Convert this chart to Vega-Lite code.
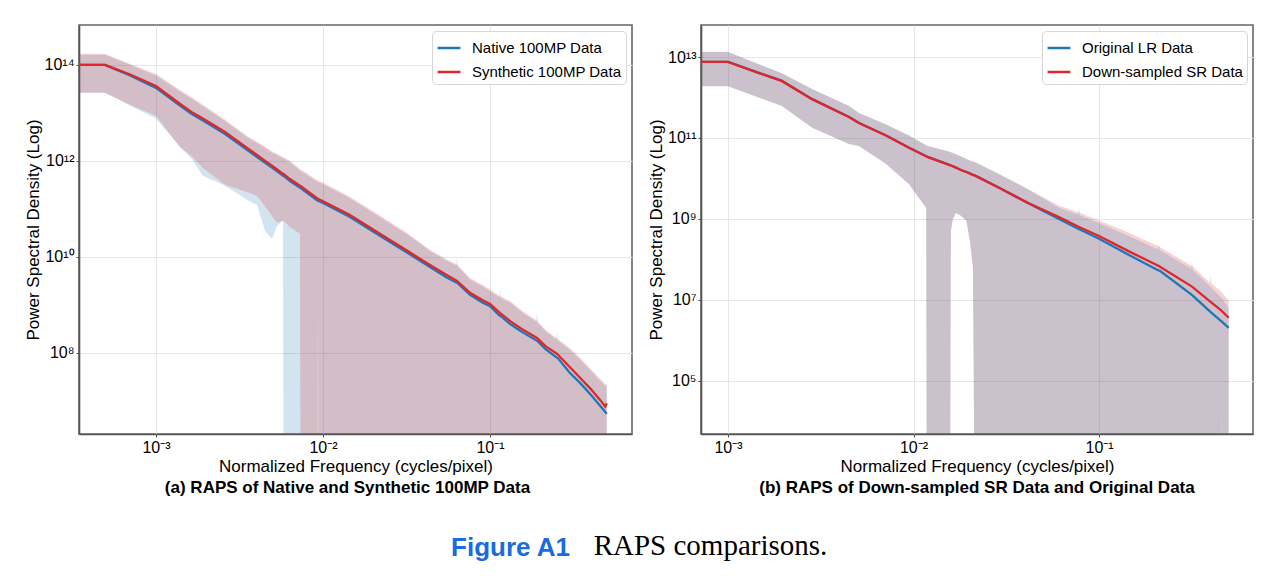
{
  "$schema": "https://vega.github.io/schema/vega-lite/v6.json",
  "background": "white",
  "padding": {"left": 23, "top": 24, "right": 0, "bottom": 0},
  "config": {
    "view": {"stroke": "#666666", "strokeWidth": 1.6},
    "axis": {
      "labelFont": "Liberation Sans", "titleFont": "Liberation Sans",
      "labelFontSize": 16, "titleFontSize": 17, "titleFontWeight": "normal",
      "labelColor": "#000000", "titleColor": "#000000",
      "gridColor": "#e6e6e6", "gridWidth": 1,
      "domainColor": "#555555", "domainWidth": 1.6,
      "tickColor": "#555555", "tickSize": 3, "labelPadding": 2
    },
    "axisX": {"titlePadding": 3},
    "axisY": {"titlePadding": 2},
    "legend": {
      "orient": "top-right", "offset": 6,
      "labelFont": "Liberation Sans", "labelFontSize": 15, "labelColor": "#000000", "labelLimit": 400,
      "symbolType": "stroke", "symbolStrokeWidth": 2.5, "symbolSize": 520,
      "labelOffset": 10, "padding": 4, "rowPadding": 3,
      "fillColor": "#ffffff", "strokeColor": "#d6d6d6", "cornerRadius": 4
    }
  },
  "title": {"text": "RAPS comparisons.", "orient": "bottom", "font": "Liberation Serif", "fontSize": 29, "fontWeight": "normal", "color": "#000000", "anchor": "middle", "baseline": "alphabetic", "dx": 72, "dy": -6, "offset": 0},
  "vconcat": [
    {
      "title": {"text": "Figure A1", "orient": "bottom", "font": "Liberation Sans", "fontSize": 26, "fontWeight": "bold", "color": "#1a6be0", "anchor": "middle", "baseline": "alphabetic", "dx": -128, "offset": 59},
      "spacing": 13,
      "resolve": {
        "scale": {"x": "independent", "y": "independent", "stroke": "independent"},
        "legend": {"stroke": "independent"},
        "axis": {"x": "independent", "y": "independent"}
      },
      "hconcat": [
        {
          "width": 553, "height": 409,
          "data": {"name": "left"},
          "title": {"text": "(a) RAPS of Native and Synthetic 100MP Data", "orient": "bottom", "font": "Liberation Sans", "fontSize": 17, "fontWeight": "bold", "color": "#000000", "anchor": "middle", "offset": 6, "dx": -8},
          "encoding": {
            "x": {"field": "f", "type": "quantitative", "scale": {"type": "log", "domain": [0.000346, 0.708], "nice": false},
                  "axis": {"values": [0.001, 0.01, 0.1], "labelExpr": "datum.value < 0.005 ? '10⁻³' : datum.value < 0.05 ? '10⁻²' : '10⁻¹'", "title": "Normalized Frequency (cycles/pixel)", "grid": true}}
          },
          "layer": [
            {
              "transform": [{"filter": "datum.s == 'Native 100MP Data'"}],
              "mark": {"type": "area", "clip": true, "color": "#1f77b4", "fillOpacity": 0.2},
              "encoding": {
                "y": {"field": "lo", "type": "quantitative", "scale": {"type": "log", "domain": [2.04e6, 6.76e14], "nice": false},
                      "axis": {"values": [1e8, 1e10, 1e12, 1e14], "labelExpr": "datum.value > 1e13 ? '10¹⁴' : datum.value > 1e11 ? '10¹²' : datum.value > 1e9 ? '10¹⁰' : '10⁸'", "title": "Power Spectral Density (Log)", "grid": true}},
                "y2": {"field": "hi"}
              }
            },
            {
              "transform": [{"filter": "datum.s == 'Synthetic 100MP Data'"}],
              "mark": {"type": "area", "clip": true, "color": "#d62728", "fillOpacity": 0.2},
              "encoding": {
                "y": {"field": "lo", "type": "quantitative"},
                "y2": {"field": "hi"}
              }
            },
            {
              "mark": {"type": "line", "clip": true, "strokeWidth": 2.3},
              "encoding": {
                "y": {"field": "m", "type": "quantitative"},
                "stroke": {"field": "s", "type": "nominal", "scale": {"domain": ["Native 100MP Data", "Synthetic 100MP Data"], "range": ["#1f77b4", "#e0262b"]}, "legend": {"title": null}}
              }
            }
          ]
        },
        {
          "width": 552, "height": 409,
          "data": {"name": "right"},
          "title": {"text": "(b) RAPS of Down-sampled SR Data and Original Data", "orient": "bottom", "font": "Liberation Sans", "fontSize": 17, "fontWeight": "bold", "color": "#000000", "anchor": "middle", "offset": 6},
          "encoding": {
            "x": {"field": "f", "type": "quantitative", "scale": {"type": "log", "domain": [0.000715, 0.676], "nice": false},
                  "axis": {"values": [0.001, 0.01, 0.1], "labelExpr": "datum.value < 0.005 ? '10⁻³' : datum.value < 0.05 ? '10⁻²' : '10⁻¹'", "title": "Normalized Frequency (cycles/pixel)", "grid": true}}
          },
          "layer": [
            {
              "transform": [{"filter": "datum.s == 'Down-sampled SR Data'"}],
              "mark": {"type": "area", "clip": true, "color": "#d62728", "fillOpacity": 0.2},
              "encoding": {
                "y": {"field": "lo", "type": "quantitative", "scale": {"type": "log", "domain": [4.9e3, 6.17e13], "nice": false},
                      "axis": {"values": [1e5, 1e7, 1e9, 1e11, 1e13], "labelExpr": "datum.value > 1e12 ? '10¹³' : datum.value > 1e10 ? '10¹¹' : datum.value > 1e8 ? '10⁹' : datum.value > 1e6 ? '10⁷' : '10⁵'", "title": "Power Spectral Density (Log)", "grid": true}},
                "y2": {"field": "hi"}
              }
            },
            {
              "transform": [{"filter": "datum.s == 'Original LR Data'"}],
              "mark": {"type": "area", "clip": true, "color": "#1f77b4", "fillOpacity": 0.2},
              "encoding": {
                "y": {"field": "lo", "type": "quantitative"},
                "y2": {"field": "hi"}
              }
            },
            {
              "mark": {"type": "line", "clip": true, "strokeWidth": 2.3},
              "encoding": {
                "y": {"field": "m", "type": "quantitative"},
                "stroke": {"field": "s", "type": "nominal", "scale": {"domain": ["Original LR Data", "Down-sampled SR Data"], "range": ["#1f77b4", "#e0262b"]}, "legend": {"title": null}}
              }
            }
          ]
        }
      ]
    }
  ],
  "datasets": {
    "left": [
      {"s": "Native 100MP Data", "f": 0.000346, "m": 1e14, "lo": 2.63e13, "hi": 1.62e14},
      {"s": "Native 100MP Data", "f": 0.000495, "m": 1e14, "lo": 2.63e13, "hi": 1.62e14},
      {"s": "Native 100MP Data", "f": 0.0007, "m": 6.03e13, "lo": 1.41e13, "hi": 1e14},
      {"s": "Native 100MP Data", "f": 0.001, "m": 3.31e13, "lo": 7.59e12, "hi": 6.03e13},
      {"s": "Native 100MP Data", "f": 0.00139, "m": 1.41e13, "lo": 2.0e12, "hi": 2.82e13},
      {"s": "Native 100MP Data", "f": 0.00163, "m": 9.55e12, "lo": 1.12e12, "hi": 2.0e13},
      {"s": "Native 100MP Data", "f": 0.00191, "m": 6.92e12, "lo": 4.9e11, "hi": 1.38e13},
      {"s": "Native 100MP Data", "f": 0.00259, "m": 3.63e12, "lo": 3.02e11, "hi": 6.76e12},
      {"s": "Native 100MP Data", "f": 0.00351, "m": 1.70e12, "lo": 1.55e11, "hi": 3.09e12},
      {"s": "Native 100MP Data", "f": 0.00403, "m": 1.20e12, "lo": 1.20e11, "hi": 2.34e12},
      {"s": "Native 100MP Data", "f": 0.0045, "m": 9.12e11, "lo": 3.47e10, "hi": 1.86e12},
      {"s": "Native 100MP Data", "f": 0.00495, "m": 7.24e11, "lo": 2.37e10, "hi": 1.48e12},
      {"s": "Native 100MP Data", "f": 0.00531, "m": 6.03e11, "lo": 4.47e10, "hi": 1.32e12},
      {"s": "Native 100MP Data", "f": 0.00576, "m": 4.9e11, "lo": 5.62e10, "hi": 1.12e12},
      {"s": "Native 100MP Data", "f": 0.00584, "m": 4.79e11, "lo": 1, "hi": 1.10e12},
      {"s": "Native 100MP Data", "f": 0.00634, "m": 3.8e11, "lo": 1, "hi": 9.33e11},
      {"s": "Native 100MP Data", "f": 0.00728, "m": 2.75e11, "lo": 1, "hi": 6.31e11},
      {"s": "Native 100MP Data", "f": 0.00738, "m": 2.69e11, "lo": 1, "hi": 6.17e11},
      {"s": "Native 100MP Data", "f": 0.0092, "m": 1.51e11, "lo": 1, "hi": 3.72e11},
      {"s": "Native 100MP Data", "f": 0.00933, "m": 1.48e11, "lo": 2.75e9, "hi": 3.63e11},
      {"s": "Native 100MP Data", "f": 0.00946, "m": 1.445e11, "lo": 1, "hi": 3.55e11},
      {"s": "Native 100MP Data", "f": 0.01, "m": 1.32e11, "lo": 1, "hi": 3.31e11},
      {"s": "Native 100MP Data", "f": 0.0145, "m": 6.76e10, "lo": 1, "hi": 1.66e11},
      {"s": "Native 100MP Data", "f": 0.0219, "m": 2.75e10, "lo": 1, "hi": 6.76e10},
      {"s": "Native 100MP Data", "f": 0.0318, "m": 1.23e10, "lo": 1, "hi": 2.95e10},
      {"s": "Native 100MP Data", "f": 0.0437, "m": 6.17e9, "lo": 1, "hi": 1.32e10},
      {"s": "Native 100MP Data", "f": 0.055, "m": 3.72e9, "lo": 1, "hi": 8.32e9},
      {"s": "Native 100MP Data", "f": 0.0628, "m": 2.93e9, "lo": 1, "hi": 6.6e9},
      {"s": "Native 100MP Data", "f": 0.0634, "m": 2.88e9, "lo": 1, "hi": 9.55e9},
      {"s": "Native 100MP Data", "f": 0.064, "m": 2.83e9, "lo": 1, "hi": 6.35e9},
      {"s": "Native 100MP Data", "f": 0.0759, "m": 1.62e9, "lo": 1, "hi": 3.39e9},
      {"s": "Native 100MP Data", "f": 0.09, "m": 1.12e9, "lo": 1, "hi": 2.45e9},
      {"s": "Native 100MP Data", "f": 0.1, "m": 9.33e8, "lo": 1, "hi": 1.95e9},
      {"s": "Native 100MP Data", "f": 0.1139, "m": 5.98e8, "lo": 1, "hi": 1.43e9},
      {"s": "Native 100MP Data", "f": 0.115, "m": 5.89e8, "lo": 1, "hi": 2.3e9},
      {"s": "Native 100MP Data", "f": 0.1161, "m": 5.8e8, "lo": 1, "hi": 1.39e9},
      {"s": "Native 100MP Data", "f": 0.132, "m": 3.98e8, "lo": 1, "hi": 1.12e9},
      {"s": "Native 100MP Data", "f": 0.155, "m": 2.75e8, "lo": 1, "hi": 7.08e8},
      {"s": "Native 100MP Data", "f": 0.189, "m": 1.82e8, "lo": 1, "hi": 4.45e8},
      {"s": "Native 100MP Data", "f": 0.191, "m": 1.78e8, "lo": 1, "hi": 7.0e8},
      {"s": "Native 100MP Data", "f": 0.193, "m": 1.75e8, "lo": 1, "hi": 4.3e8},
      {"s": "Native 100MP Data", "f": 0.215, "m": 1.20e8, "lo": 1, "hi": 2.82e8},
      {"s": "Native 100MP Data", "f": 0.2495, "m": 8.1e7, "lo": 1, "hi": 1.9e8},
      {"s": "Native 100MP Data", "f": 0.252, "m": 7.94e7, "lo": 1, "hi": 2.9e8},
      {"s": "Native 100MP Data", "f": 0.2545, "m": 7.8e7, "lo": 1, "hi": 1.83e8},
      {"s": "Native 100MP Data", "f": 0.301, "m": 3.8e7, "lo": 1, "hi": 1.15e8},
      {"s": "Native 100MP Data", "f": 0.346, "m": 2.37e7, "lo": 1, "hi": 7.24e7},
      {"s": "Native 100MP Data", "f": 0.4, "m": 1.35e7, "lo": 1, "hi": 4.27e7},
      {"s": "Native 100MP Data", "f": 0.456, "m": 7.94e6, "lo": 1, "hi": 2.63e7},
      {"s": "Native 100MP Data", "f": 0.49, "m": 5.89e6, "lo": 1, "hi": 2.04e7},
      {"s": "Native 100MP Data", "f": 0.5, "m": 5.37e6, "lo": 1, "hi": 2.3e7},
      {"s": "Synthetic 100MP Data", "f": 0.000346, "m": 1e14, "lo": 2.63e13, "hi": 1.70e14},
      {"s": "Synthetic 100MP Data", "f": 0.000495, "m": 1e14, "lo": 2.63e13, "hi": 1.70e14},
      {"s": "Synthetic 100MP Data", "f": 0.0007, "m": 6.31e13, "lo": 1.48e13, "hi": 1.047e14},
      {"s": "Synthetic 100MP Data", "f": 0.001, "m": 3.63e13, "lo": 8.71e12, "hi": 6.46e13},
      {"s": "Synthetic 100MP Data", "f": 0.00139, "m": 1.55e13, "lo": 1.95e12, "hi": 3.02e13},
      {"s": "Synthetic 100MP Data", "f": 0.00163, "m": 1.047e13, "lo": 1.26e12, "hi": 2.14e13},
      {"s": "Synthetic 100MP Data", "f": 0.00191, "m": 7.59e12, "lo": 7.08e11, "hi": 1.48e13},
      {"s": "Synthetic 100MP Data", "f": 0.00259, "m": 3.98e12, "lo": 3.16e11, "hi": 7.24e12},
      {"s": "Synthetic 100MP Data", "f": 0.00351, "m": 1.86e12, "lo": 2.24e11, "hi": 3.31e12},
      {"s": "Synthetic 100MP Data", "f": 0.00403, "m": 1.32e12, "lo": 1.86e11, "hi": 2.51e12},
      {"s": "Synthetic 100MP Data", "f": 0.0045, "m": 1e12, "lo": 1.12e11, "hi": 2.0e12},
      {"s": "Synthetic 100MP Data", "f": 0.00495, "m": 7.94e11, "lo": 7.08e10, "hi": 1.585e12},
      {"s": "Synthetic 100MP Data", "f": 0.00531, "m": 6.61e11, "lo": 5.13e10, "hi": 1.41e12},
      {"s": "Synthetic 100MP Data", "f": 0.00576, "m": 5.37e11, "lo": 5.62e10, "hi": 1.20e12},
      {"s": "Synthetic 100MP Data", "f": 0.00584, "m": 5.25e11, "lo": 5.5e10, "hi": 1.175e12},
      {"s": "Synthetic 100MP Data", "f": 0.00634, "m": 4.17e11, "lo": 4.17e10, "hi": 1e12},
      {"s": "Synthetic 100MP Data", "f": 0.00728, "m": 3.02e11, "lo": 3.02e10, "hi": 6.76e11},
      {"s": "Synthetic 100MP Data", "f": 0.00738, "m": 2.95e11, "lo": 1, "hi": 6.61e11},
      {"s": "Synthetic 100MP Data", "f": 0.0092, "m": 1.66e11, "lo": 1, "hi": 3.98e11},
      {"s": "Synthetic 100MP Data", "f": 0.00933, "m": 1.62e11, "lo": 1, "hi": 3.89e11},
      {"s": "Synthetic 100MP Data", "f": 0.00946, "m": 1.585e11, "lo": 1, "hi": 3.80e11},
      {"s": "Synthetic 100MP Data", "f": 0.01, "m": 1.445e11, "lo": 1, "hi": 3.55e11},
      {"s": "Synthetic 100MP Data", "f": 0.0145, "m": 7.41e10, "lo": 1, "hi": 1.78e11},
      {"s": "Synthetic 100MP Data", "f": 0.0219, "m": 3.02e10, "lo": 1, "hi": 7.24e10},
      {"s": "Synthetic 100MP Data", "f": 0.0318, "m": 1.35e10, "lo": 1, "hi": 3.16e10},
      {"s": "Synthetic 100MP Data", "f": 0.0437, "m": 6.76e9, "lo": 1, "hi": 1.41e10},
      {"s": "Synthetic 100MP Data", "f": 0.055, "m": 4.17e9, "lo": 1, "hi": 8.91e9},
      {"s": "Synthetic 100MP Data", "f": 0.0634, "m": 3.16e9, "lo": 1, "hi": 6.92e9},
      {"s": "Synthetic 100MP Data", "f": 0.0759, "m": 1.78e9, "lo": 1, "hi": 3.63e9},
      {"s": "Synthetic 100MP Data", "f": 0.09, "m": 1.26e9, "lo": 1, "hi": 2.63e9},
      {"s": "Synthetic 100MP Data", "f": 0.1, "m": 1.047e9, "lo": 1, "hi": 2.09e9},
      {"s": "Synthetic 100MP Data", "f": 0.115, "m": 6.76e8, "lo": 1, "hi": 1.51e9},
      {"s": "Synthetic 100MP Data", "f": 0.132, "m": 4.57e8, "lo": 1, "hi": 1.20e9},
      {"s": "Synthetic 100MP Data", "f": 0.155, "m": 3.16e8, "lo": 1, "hi": 7.59e8},
      {"s": "Synthetic 100MP Data", "f": 0.191, "m": 2.04e8, "lo": 1, "hi": 4.68e8},
      {"s": "Synthetic 100MP Data", "f": 0.215, "m": 1.38e8, "lo": 1, "hi": 3.02e8},
      {"s": "Synthetic 100MP Data", "f": 0.252, "m": 9.55e7, "lo": 1, "hi": 2.0e8},
      {"s": "Synthetic 100MP Data", "f": 0.301, "m": 5.01e7, "lo": 1, "hi": 1.26e8},
      {"s": "Synthetic 100MP Data", "f": 0.346, "m": 3.02e7, "lo": 1, "hi": 7.94e7},
      {"s": "Synthetic 100MP Data", "f": 0.4, "m": 1.78e7, "lo": 1, "hi": 4.68e7},
      {"s": "Synthetic 100MP Data", "f": 0.456, "m": 1.047e7, "lo": 1, "hi": 2.88e7},
      {"s": "Synthetic 100MP Data", "f": 0.49, "m": 7.59e6, "lo": 1, "hi": 2.24e7},
      {"s": "Synthetic 100MP Data", "f": 0.5, "m": 8.91e6, "lo": 1, "hi": 2.04e7}
    ],
    "right": [
      {"s": "Original LR Data", "f": 0.000715, "m": 7.59e12, "lo": 1.905e12, "hi": 1.32e13},
      {"s": "Original LR Data", "f": 0.001, "m": 7.59e12, "lo": 1.905e12, "hi": 1.32e13},
      {"s": "Original LR Data", "f": 0.0014, "m": 4.37e12, "lo": 1.07e12, "hi": 7.24e12},
      {"s": "Original LR Data", "f": 0.00195, "m": 2.57e12, "lo": 6.17e11, "hi": 3.98e12},
      {"s": "Original LR Data", "f": 0.00284, "m": 9.12e11, "lo": 1.78e11, "hi": 1.62e12},
      {"s": "Original LR Data", "f": 0.00449, "m": 3.31e11, "lo": 7.08e10, "hi": 6.17e11},
      {"s": "Original LR Data", "f": 0.00508, "m": 2.34e11, "lo": 6.31e10, "hi": 4.17e11},
      {"s": "Original LR Data", "f": 0.00711, "m": 1.15e11, "lo": 2.29e10, "hi": 2.14e11},
      {"s": "Original LR Data", "f": 0.00946, "m": 5.75e10, "lo": 7.24e9, "hi": 1.15e11},
      {"s": "Original LR Data", "f": 0.0117, "m": 3.55e10, "lo": 1.86e9, "hi": 6.61e10},
      {"s": "Original LR Data", "f": 0.0118, "m": 3.47e10, "lo": 1, "hi": 6.46e10},
      {"s": "Original LR Data", "f": 0.0157, "m": 2.14e10, "lo": 1, "hi": 4.57e10},
      {"s": "Original LR Data", "f": 0.0159, "m": 2.09e10, "lo": 5.01e8, "hi": 4.47e10},
      {"s": "Original LR Data", "f": 0.0163, "m": 2.0e10, "lo": 1e9, "hi": 4.27e10},
      {"s": "Original LR Data", "f": 0.0169, "m": 1.86e10, "lo": 1.41e9, "hi": 3.98e10},
      {"s": "Original LR Data", "f": 0.018, "m": 1.62e10, "lo": 1.20e9, "hi": 3.55e10},
      {"s": "Original LR Data", "f": 0.0193, "m": 1.445e10, "lo": 8.91e8, "hi": 3.02e10},
      {"s": "Original LR Data", "f": 0.0202, "m": 1.32e10, "lo": 2.51e8, "hi": 2.75e10},
      {"s": "Original LR Data", "f": 0.0209, "m": 1.23e10, "lo": 6.31e7, "hi": 2.63e10},
      {"s": "Original LR Data", "f": 0.0215, "m": 1.175e10, "lo": 1, "hi": 2.51e10},
      {"s": "Original LR Data", "f": 0.0289, "m": 5.89e9, "lo": 1, "hi": 1.29e10},
      {"s": "Original LR Data", "f": 0.0418, "m": 2.40e9, "lo": 1, "hi": 5.25e9},
      {"s": "Original LR Data", "f": 0.0608, "m": 1e9, "lo": 1, "hi": 1.905e9},
      {"s": "Original LR Data", "f": 0.0772, "m": 5.75e8, "lo": 1, "hi": 1.29e9},
      {"s": "Original LR Data", "f": 0.078, "m": 5.62e8, "lo": 1, "hi": 2.0e9},
      {"s": "Original LR Data", "f": 0.0788, "m": 5.5e8, "lo": 1, "hi": 1.23e9},
      {"s": "Original LR Data", "f": 0.1, "m": 3.24e8, "lo": 1, "hi": 7.94e8},
      {"s": "Original LR Data", "f": 0.145, "m": 1.29e8, "lo": 1, "hi": 3.80e8},
      {"s": "Original LR Data", "f": 0.208, "m": 5.45e7, "lo": 1, "hi": 1.77e8},
      {"s": "Original LR Data", "f": 0.21, "m": 5.37e7, "lo": 1, "hi": 2.6e8},
      {"s": "Original LR Data", "f": 0.212, "m": 5.3e7, "lo": 1, "hi": 1.71e8},
      {"s": "Original LR Data", "f": 0.314, "m": 1.37e7, "lo": 1, "hi": 5.9e7},
      {"s": "Original LR Data", "f": 0.317, "m": 1.32e7, "lo": 1, "hi": 1.0e8},
      {"s": "Original LR Data", "f": 0.32, "m": 1.28e7, "lo": 1, "hi": 5.6e7},
      {"s": "Original LR Data", "f": 0.4, "m": 5.01e6, "lo": 1, "hi": 2.09e7},
      {"s": "Original LR Data", "f": 0.452, "m": 3.09e6, "lo": 1, "hi": 1.17e7},
      {"s": "Original LR Data", "f": 0.455, "m": 3.02e6, "lo": 7.59e4, "hi": 1.15e7},
      {"s": "Original LR Data", "f": 0.458, "m": 2.95e6, "lo": 1, "hi": 1.13e7},
      {"s": "Original LR Data", "f": 0.5, "m": 2.04e6, "lo": 1, "hi": 6.31e6},
      {"s": "Down-sampled SR Data", "f": 0.000715, "m": 7.59e12, "lo": 1.905e12, "hi": 1.32e13},
      {"s": "Down-sampled SR Data", "f": 0.001, "m": 7.59e12, "lo": 1.905e12, "hi": 1.32e13},
      {"s": "Down-sampled SR Data", "f": 0.0014, "m": 4.37e12, "lo": 1.07e12, "hi": 7.24e12},
      {"s": "Down-sampled SR Data", "f": 0.00195, "m": 2.57e12, "lo": 6.17e11, "hi": 3.98e12},
      {"s": "Down-sampled SR Data", "f": 0.00284, "m": 9.12e11, "lo": 1.78e11, "hi": 1.62e12},
      {"s": "Down-sampled SR Data", "f": 0.00449, "m": 3.31e11, "lo": 7.08e10, "hi": 6.17e11},
      {"s": "Down-sampled SR Data", "f": 0.00508, "m": 2.34e11, "lo": 6.31e10, "hi": 4.17e11},
      {"s": "Down-sampled SR Data", "f": 0.00711, "m": 1.15e11, "lo": 2.29e10, "hi": 2.14e11},
      {"s": "Down-sampled SR Data", "f": 0.00946, "m": 5.75e10, "lo": 7.24e9, "hi": 1.15e11},
      {"s": "Down-sampled SR Data", "f": 0.0117, "m": 3.55e10, "lo": 1.86e9, "hi": 6.61e10},
      {"s": "Down-sampled SR Data", "f": 0.0118, "m": 3.47e10, "lo": 1, "hi": 6.46e10},
      {"s": "Down-sampled SR Data", "f": 0.0157, "m": 2.14e10, "lo": 1, "hi": 4.57e10},
      {"s": "Down-sampled SR Data", "f": 0.0159, "m": 2.09e10, "lo": 5.01e8, "hi": 4.47e10},
      {"s": "Down-sampled SR Data", "f": 0.0163, "m": 2.0e10, "lo": 1e9, "hi": 4.27e10},
      {"s": "Down-sampled SR Data", "f": 0.0169, "m": 1.86e10, "lo": 1.41e9, "hi": 3.98e10},
      {"s": "Down-sampled SR Data", "f": 0.018, "m": 1.62e10, "lo": 1.20e9, "hi": 3.55e10},
      {"s": "Down-sampled SR Data", "f": 0.0193, "m": 1.445e10, "lo": 8.91e8, "hi": 3.02e10},
      {"s": "Down-sampled SR Data", "f": 0.0202, "m": 1.32e10, "lo": 2.51e8, "hi": 2.75e10},
      {"s": "Down-sampled SR Data", "f": 0.0209, "m": 1.23e10, "lo": 6.31e7, "hi": 2.63e10},
      {"s": "Down-sampled SR Data", "f": 0.0215, "m": 1.175e10, "lo": 1, "hi": 2.51e10},
      {"s": "Down-sampled SR Data", "f": 0.0289, "m": 5.89e9, "lo": 1, "hi": 1.29e10},
      {"s": "Down-sampled SR Data", "f": 0.0418, "m": 2.45e9, "lo": 1, "hi": 5.37e9},
      {"s": "Down-sampled SR Data", "f": 0.0608, "m": 1.12e9, "lo": 1, "hi": 2.14e9},
      {"s": "Down-sampled SR Data", "f": 0.078, "m": 6.31e8, "lo": 1, "hi": 1.445e9},
      {"s": "Down-sampled SR Data", "f": 0.1, "m": 3.80e8, "lo": 1, "hi": 9.12e8},
      {"s": "Down-sampled SR Data", "f": 0.145, "m": 1.585e8, "lo": 1, "hi": 4.57e8},
      {"s": "Down-sampled SR Data", "f": 0.21, "m": 6.92e7, "lo": 1, "hi": 2.09e8},
      {"s": "Down-sampled SR Data", "f": 0.317, "m": 2.14e7, "lo": 1, "hi": 6.92e7},
      {"s": "Down-sampled SR Data", "f": 0.396, "m": 9.2e6, "lo": 1, "hi": 2.7e7},
      {"s": "Down-sampled SR Data", "f": 0.4, "m": 8.91e6, "lo": 1, "hi": 4.2e7},
      {"s": "Down-sampled SR Data", "f": 0.404, "m": 8.6e6, "lo": 1, "hi": 2.55e7},
      {"s": "Down-sampled SR Data", "f": 0.455, "m": 5.5e6, "lo": 1, "hi": 1.585e7},
      {"s": "Down-sampled SR Data", "f": 0.5, "m": 3.63e6, "lo": 1, "hi": 9.55e6}
    ]
  }
}
